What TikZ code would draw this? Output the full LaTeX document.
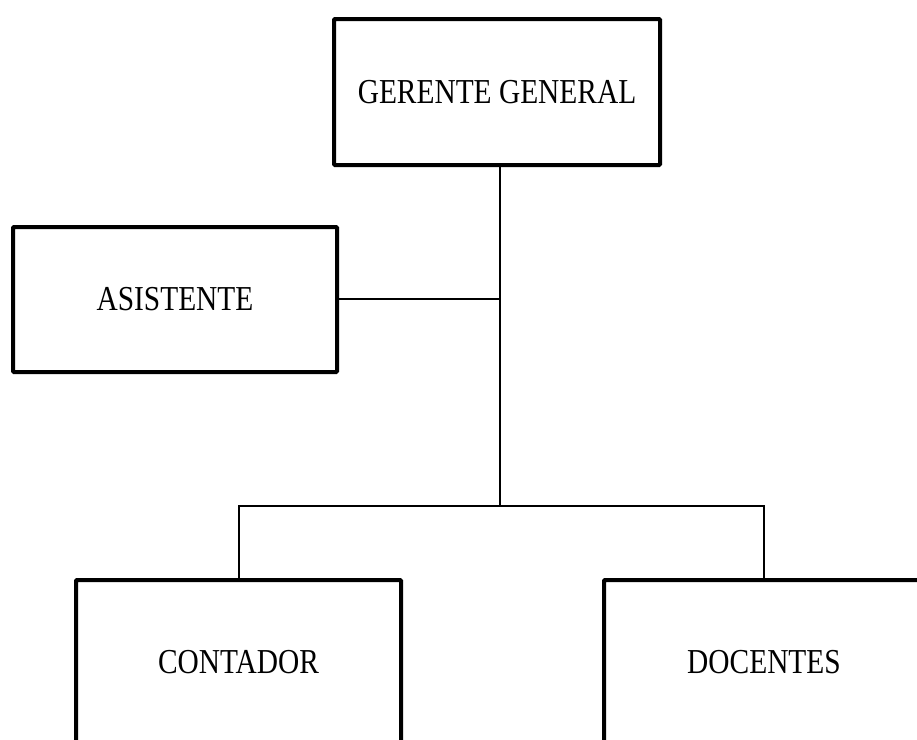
\documentclass[tikz,border=0pt]{standalone}
\usepackage{fontspec}
\setmainfont{Liberation Serif}[FakeStretch=0.84]
\begin{document}
\begin{tikzpicture}[x=1pt,y=-1pt,
  orgbox/.style={draw=black,line width=4pt,rectangle,rounded corners=1pt,fill=white,inner sep=0pt,
    font=\fontsize{35}{40}\selectfont},
  link/.style={draw=black,line width=2pt}]
\useasboundingbox (0,0) rectangle (917,739);
\clip (0,0) rectangle (917,739);
\node[orgbox,minimum width=326pt,minimum height=146pt] (gg) at (497,92) {GERENTE GENERAL};
\node[orgbox,minimum width=324pt,minimum height=145pt] (as) at (175,299.5) {ASISTENTE};
\node[orgbox,minimum width=325pt,minimum height=164pt] (co) at (238.5,662) {CONTADOR};
\node[orgbox,minimum width=320pt,minimum height=164pt] (do) at (764,662) {DOCENTES};
\coordinate (j1) at (500,299);
\coordinate (j2) at (500,506);
\draw[link] (j2) -- (j2 |- gg.south);
\draw[link] (as.east |- j1) -- (j1);
\draw[link] (co.north) -- (co.north |- j2) -- (do.north |- j2) -- (do.north);
\end{tikzpicture}
\end{document}
